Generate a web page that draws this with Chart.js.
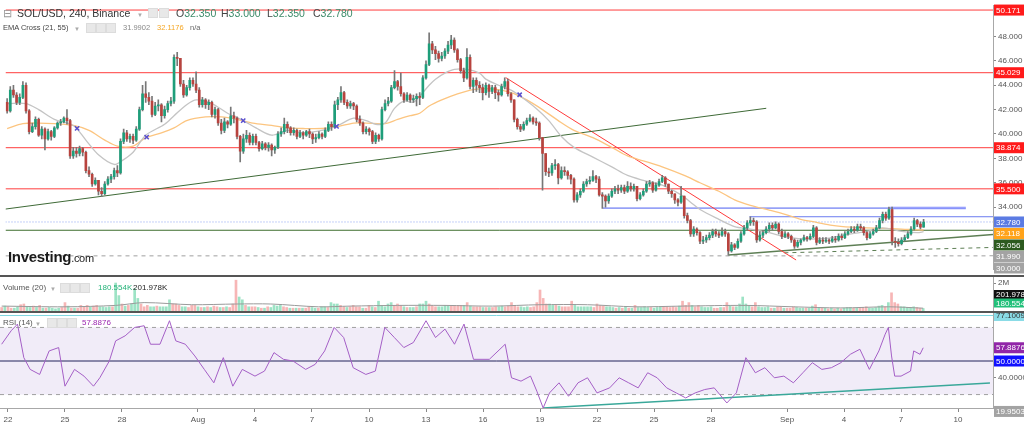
<!DOCTYPE html>
<html>
<head>
<meta charset="utf-8">
<script src="https://cdn.jsdelivr.net/npm/chart.js@4.4.1/dist/chart.umd.min.js"></script>
<style>
  body { margin: 0; width: 1024px; height: 429px; overflow: hidden; background: #fff; position: relative; font-family: Arial, "Liberation Sans", sans-serif; }
  canvas { position: absolute; left: 0; }
  #cMain { top: 0; }
  #cVol { top: 277px; }
  #cRsi { top: 313px; }
  .sep { position: absolute; left: 0; width: 1024px; height: 2px; background: #555; }
  .t { position: absolute; white-space: nowrap; z-index: 5; line-height: 12px; }
  .s { font-size: 7.5px; }
  .ico { position: absolute; z-index: 5; width: 8px; height: 8px; background: #e8e8e8; border: 1px solid #dcdcdc; }
  .dd { color: #aaa; font-size: 6px; }
  .k { color: #444; }
  .v { color: #3b8a68; }
</style>
</head>
<body>
<canvas id="cMain" width="1024" height="275"></canvas>
<div class="sep" style="top:275px"></div>
<canvas id="cVol" width="1024" height="34"></canvas>
<div class="sep" style="top:311px"></div>
<canvas id="cRsi" width="1024" height="116"></canvas>

<!-- 圖例 -->
<div class="t" style="left:3px;top:7px;font-size:10.5px;color:#999">⊟</div>
<div class="t" style="left:17px;top:7px;font-size:10.5px;color:#333">SOL/USD, 240, Binance</div>
<div class="t dd" style="left:137px;top:9px">▼</div>
<div class="ico" style="left:148px;top:8px"></div><div class="ico" style="left:159px;top:8px"></div>
<div class="t" style="left:176px;top:7px;font-size:10.5px"><span class="k">O</span><span class="v">32.350</span></div>
<div class="t" style="left:221px;top:7px;font-size:10.5px"><span class="k">H</span><span class="v">33.000</span></div>
<div class="t" style="left:267px;top:7px;font-size:10.5px"><span class="k">L</span><span class="v">32.350</span></div>
<div class="t" style="left:313px;top:7px;font-size:10.5px"><span class="k">C</span><span class="v">32.780</span></div>

<div class="t s" style="left:3px;top:22px;color:#444">EMA Cross (21, 55)</div>
<div class="t dd" style="left:74px;top:23px">▼</div>
<div class="ico" style="left:86px;top:23px"></div><div class="ico" style="left:96px;top:23px"></div><div class="ico" style="left:106px;top:23px"></div>
<div class="t s" style="left:123px;top:22px;color:#888">31.9902</div>
<div class="t s" style="left:157px;top:22px;color:#f5a623">32.1176</div>
<div class="t s" style="left:190px;top:22px;color:#666">n/a</div>

<div class="t" style="left:8px;top:251px;font-size:15px;font-weight:bold;color:#1a1a1a;letter-spacing:-0.3px">Investing<span style="font-size:11px;font-weight:normal">.com</span></div>

<div class="t" style="left:3px;top:282px;font-size:8px;color:#555">Volume (20)</div>
<div class="t dd" style="left:50px;top:283px">▼</div>
<div class="ico" style="left:60px;top:283px"></div><div class="ico" style="left:70px;top:283px"></div><div class="ico" style="left:80px;top:283px"></div>
<div class="t" style="left:98px;top:282px;font-size:8px;color:#26b37a">180.554K</div>
<div class="t" style="left:133px;top:282px;font-size:8px;color:#222">201.978K</div>

<div class="t" style="left:3px;top:317px;font-size:8px;color:#555">RSI (14)</div>
<div class="t dd" style="left:35px;top:318px">▼</div>
<div class="ico" style="left:47px;top:318px"></div><div class="ico" style="left:57px;top:318px"></div><div class="ico" style="left:67px;top:318px"></div>
<div class="t" style="left:82px;top:317px;font-size:8px;color:#9c27b0">57.8876</div>

<script>
// --- 資料區 (240 分鐘 K 線, 第一根 = 7/21 16:00) ---
const firstOpen = 42.6;
const closes = [
  41.9,43.6,43.2,42.6,43.0,44.0,41.9,40.2,40.6,41.2,
  39.9,40.4,39.6,40.2,39.8,40.5,40.9,41.0,41.3,41.1,
  38.2,38.6,38.4,38.8,38.5,37.0,36.7,35.9,36.2,35.3,
  35.1,35.9,36.3,36.5,37.0,36.8,39.4,40.1,39.6,39.8,
  39.5,40.4,42.0,43.3,43.0,42.7,41.6,42.3,42.4,41.5,
  42.0,42.5,42.7,46.3,46.2,44.1,43.2,43.8,44.4,44.1,
  43.6,42.4,42.8,42.4,42.6,41.6,42.0,40.9,40.3,41.0,
  40.8,41.5,41.3,39.8,38.6,39.6,39.9,39.3,39.8,39.3,
  38.8,39.2,38.9,39.1,38.7,38.9,40.0,40.2,40.8,40.5,
  40.1,40.3,39.8,40.1,39.9,40.2,40.0,39.6,39.7,40.0,
  39.8,40.3,40.8,40.6,42.4,42.8,43.4,42.6,42.3,42.5,
  42.3,41.2,40.9,40.2,40.4,40.2,39.4,39.9,39.6,42.0,
  42.5,42.7,43.8,44.3,43.9,43.3,42.8,43.2,42.8,42.9,
  43.1,43.0,44.6,45.7,47.4,46.9,46.6,46.2,46.4,46.8,
  47.3,47.7,46.9,46.1,45.2,44.6,46.3,43.9,44.4,44.0,
  43.8,43.4,44.0,43.5,43.8,43.4,43.2,43.9,44.3,43.3,
  42.8,41.2,40.6,40.4,40.8,41.1,41.3,41.0,40.9,39.7,
  38.4,36.9,36.8,37.4,37.5,36.4,37.0,36.9,36.6,36.3,
  34.6,35.0,35.3,35.9,36.1,36.2,36.5,36.3,35.0,34.9,
  34.5,34.9,35.3,35.5,35.4,35.6,35.3,35.7,35.5,35.7,
  34.7,35.0,35.3,35.9,36.0,35.4,35.8,36.1,36.4,35.9,
  35.3,35.1,34.6,34.4,34.9,33.3,32.9,31.8,32.2,31.9,
  31.2,31.3,31.5,31.7,32.0,31.8,31.7,32.0,31.8,30.4,
  30.9,30.7,31.2,31.8,32.3,32.7,32.9,32.8,31.3,31.7,
  31.9,32.2,32.5,32.3,32.6,32.0,31.6,31.8,31.6,31.3,
  30.8,31.1,31.3,31.5,31.4,31.6,32.3,31.1,31.3,31.2,
  31.3,31.2,31.4,31.3,31.6,31.5,31.8,32.0,32.2,32.1,
  32.4,32.3,31.9,31.5,31.8,32.0,32.3,32.9,33.4,33.1,
  33.8,31.2,31.1,31.0,31.3,31.5,31.8,32.2,32.9,32.6,32.35,32.78
];
const highs = [
  42.9,43.9,44.0,43.4,43.3,44.3,44.2,42.0,40.9,41.4,
  41.3,40.6,40.5,40.4,40.3,40.6,41.0,41.2,41.4,42.0,
  41.2,38.9,38.9,39.0,38.9,38.6,37.3,36.8,36.4,36.2,
  35.6,36.1,36.5,36.7,37.2,37.4,39.6,40.4,40.3,40.0,
  40.0,40.6,42.2,44.0,44.3,43.4,43.1,42.6,42.8,42.5,
  42.3,42.7,43.0,46.5,46.7,46.2,44.4,44.0,44.6,44.6,
  45.1,43.8,43.0,42.9,42.8,42.7,42.2,42.1,41.2,41.3,
  41.1,42.2,41.8,41.4,39.9,40.0,40.3,40.1,40.0,40.0,
  39.4,39.4,39.3,39.3,39.2,39.0,40.2,40.5,41.3,41.0,
  40.6,40.5,40.4,40.3,40.2,40.3,40.4,40.1,40.0,40.2,
  40.1,40.5,41.0,41.0,42.7,43.0,43.9,43.5,42.8,42.7,
  42.6,42.4,41.5,41.0,40.6,40.5,40.3,40.1,40.0,42.2,
  42.8,43.0,44.0,45.2,44.4,45.0,43.4,43.4,43.3,43.2,
  43.3,43.4,44.8,46.0,48.3,47.6,47.2,46.8,46.7,47.0,
  47.6,48.1,47.9,47.0,46.2,45.4,47.0,46.5,44.6,44.6,
  44.3,44.1,44.2,44.1,44.0,44.0,43.6,44.1,44.6,44.5,
  43.4,42.8,41.3,40.8,41.0,41.3,41.6,41.4,41.3,41.0,
  39.7,38.4,37.2,37.6,37.9,37.6,37.3,37.3,37.0,36.7,
  36.4,35.2,35.5,36.1,36.3,36.5,37.0,36.6,36.5,35.2,
  35.0,35.1,35.5,35.7,35.8,35.8,35.8,36.1,36.0,35.9,
  35.7,35.2,35.5,36.1,36.2,36.1,36.0,36.3,36.6,36.5,
  35.9,35.4,35.1,34.7,35.7,34.9,33.5,33.0,32.4,32.3,
  32.0,31.6,31.7,31.9,32.2,32.2,32.0,32.3,32.2,31.9,
  31.1,31.0,31.4,32.0,32.5,32.9,33.2,33.1,32.9,32.0,
  32.1,32.4,32.7,32.7,32.8,32.7,32.2,32.0,31.9,31.7,
  31.4,31.3,31.4,31.7,31.6,31.8,32.5,32.4,31.5,31.5,
  31.5,31.4,31.6,31.6,31.8,31.8,32.0,32.2,32.4,32.4,
  32.6,32.6,32.4,32.0,32.0,32.2,32.5,33.1,33.6,33.6,
  34.0,34.0,31.5,31.4,31.5,31.7,32.0,32.4,33.1,33.0,32.8,33.0
];
const lows = [
  41.7,41.8,43.0,42.4,42.4,42.9,41.7,40.0,40.1,40.4,
  39.8,39.6,38.7,39.5,39.5,39.7,40.4,40.7,40.9,40.8,
  38.0,38.0,38.1,38.2,38.2,36.8,36.5,35.7,35.8,35.0,
  34.85,35.0,35.8,36.0,36.3,36.5,36.7,39.2,39.4,39.3,
  39.2,39.4,40.3,41.9,42.6,42.4,41.4,41.5,41.9,41.0,
  41.3,41.8,42.3,42.5,45.6,43.9,43.0,43.1,43.6,43.9,
  43.4,42.2,42.2,42.1,42.0,41.4,41.3,40.7,40.0,40.1,
  40.5,40.7,40.9,39.6,37.7,38.4,39.3,39.1,39.1,39.1,
  38.6,38.7,38.7,38.6,38.2,38.4,38.8,39.8,40.0,40.1,
  39.9,39.9,39.6,39.7,39.6,39.8,39.7,39.2,39.3,39.6,
  39.6,39.7,40.2,40.3,40.5,42.0,42.6,42.4,42.1,42.1,
  42.0,41.0,40.7,40.0,40.0,39.9,39.2,39.2,39.4,39.5,
  41.9,42.3,42.6,43.7,43.6,43.1,42.6,42.7,42.6,42.6,
  42.3,42.4,42.9,44.5,45.6,46.6,46.1,45.9,46.0,46.2,
  46.6,47.0,46.7,45.9,45.0,44.3,44.5,43.7,43.4,43.5,
  43.4,42.8,43.2,43.0,43.3,42.9,42.7,43.1,43.7,43.1,
  42.6,41.0,40.4,40.2,40.3,40.7,41.0,40.8,40.7,39.5,
  35.4,36.6,36.5,36.6,37.1,35.9,36.3,36.6,36.3,35.9,
  34.4,34.4,34.8,35.2,35.7,35.9,36.1,36.0,34.9,33.9,
  34.0,34.3,34.8,35.1,35.1,35.2,35.1,35.2,35.3,35.3,
  34.5,34.6,34.9,35.2,35.7,35.2,35.3,35.7,36.0,35.7,
  35.1,34.8,34.3,34.1,34.3,33.1,32.7,31.6,31.6,31.7,
  31.0,31.0,31.1,31.3,31.5,31.6,31.5,31.6,31.6,30.05,
  30.3,30.5,30.6,31.1,31.7,32.1,32.5,32.5,31.1,31.2,
  31.5,31.8,32.0,32.1,32.2,31.8,31.4,31.5,31.4,31.1,
  30.6,30.7,30.9,31.2,31.2,31.3,31.5,30.9,31.0,31.0,
  31.1,31.0,31.1,31.1,31.2,31.3,31.4,31.7,31.9,31.9,
  32.0,32.1,31.7,31.3,31.4,31.7,31.9,32.2,32.7,32.9,
  33.0,30.9,30.7,30.8,30.9,31.2,31.4,31.7,32.1,32.4,32.2,32.35
];
// 成交量 (百萬)
const volumes = [
  .25,.35,.3,.2,.2,.3,.45,.5,.3,.25,
  .35,.25,.4,.2,.2,.25,.2,.15,.2,.25,
  .6,.35,.2,.2,.2,.4,.3,.4,.3,.35,
  .4,.3,.3,.25,.3,.3,2.0,1.1,.5,.35,
  .4,.5,1.6,.9,.5,.3,.4,.3,.3,.35,
  .3,.3,.3,.8,.5,.5,.4,.3,.3,.25,
  .4,.4,.3,.25,.25,.3,.25,.35,.3,.25,
  .25,.3,.25,.5,2.2,1.0,.8,.4,.3,.3,
  .3,.25,.2,.2,.3,.25,.4,.35,.4,.3,
  .25,.2,.2,.2,.2,.2,.2,.3,.25,.2,
  .2,.3,.3,.25,.6,.5,.5,.4,.3,.25,
  .3,.4,.3,.3,.2,.2,.4,.3,.25,.7,
  .4,.3,.5,.6,.4,.5,.4,.3,.25,.25,
  .25,.3,.5,.5,.7,.5,.4,.3,.3,.3,
  .4,.4,.35,.35,.4,.4,.4,.6,.35,.3,
  .3,.3,.25,.25,.25,.25,.3,.3,.35,.3,
  .35,.6,.4,.3,.3,.25,.3,.25,.3,.6,
  1.5,.9,.5,.5,.4,.4,.35,.3,.3,.3,
  .7,.4,.3,.3,.3,.3,.3,.25,.5,.4,
  .35,.3,.3,.25,.2,.25,.2,.3,.2,.2,
  .4,.25,.25,.3,.25,.25,.2,.25,.3,.3,
  .3,.25,.3,.25,.35,.7,.4,.6,.4,.3,
  .4,.3,.25,.25,.3,.2,.2,.25,.25,.6,
  .4,.3,.3,.5,1.0,.5,.4,.3,.6,.3,
  .25,.25,.3,.2,.2,.3,.3,.2,.2,.2,
  .3,.25,.2,.2,.2,.2,.35,.45,.25,.2,
  .2,.15,.2,.15,.2,.15,.2,.25,.25,.2,
  .2,.2,.25,.3,.2,.2,.25,.35,.4,.3,
  .6,1.3,.6,.5,.3,.3,.25,.25,.3,.25,.2,.18
];
const volMaIdx = [0, 20, 36, 45, 60, 74, 85, 100, 110, 125, 140, 155, 170, 185, 200, 215, 235, 250, 265, 280, 291];
const volMaVal = [.35, .3, .4, .6, .45, .5, .5, .3, .35, .4, .4, .35, .45, .45, .3, .35, .4, .3, .22, .3, .2];

// EMA 21 / EMA 55 (依 K 線序號讀值)
const emaFastIdx = [0,6,10,15,21,25,29,34,37,40,44,50,53,57,60,65,70,75,79,84,89,94,100,105,110,114,117,120,123,126,129,131,134,136,139,142,146,150,152,156,160,163,168,172,176,180,186,192,197,202,208,214,217,220,226,231,236,242,247,252,257,262,268,273,278,284,289,291];
const emaFastVal = [42.5,42.5,42.0,41.2,40.7,39.5,38.3,37.5,37.9,38.5,39.9,40.8,41.5,42.4,42.8,42.5,41.7,41.1,40.5,39.9,40.3,40.1,40.3,40.7,41.3,41.1,40.8,40.9,42.1,42.7,42.6,43.1,44.0,44.5,45.0,45.3,45.3,45.0,44.5,44.0,43.6,43.1,42.1,41.1,39.8,38.9,38.1,37.3,36.6,36.2,35.8,35.0,34.4,33.8,33.0,32.4,32.2,31.9,31.55,31.4,31.4,31.5,31.8,32.0,32.3,32.0,31.9,31.99];
const emaSlowIdx = [0,5,10,15,21,26,31,35,40,44,49,53,57,63,68,73,78,84,89,94,100,105,110,114,120,124,128,131,134,138,143,148,154,160,165,170,175,180,186,192,197,202,208,215,220,226,231,236,242,247,252,257,262,268,273,278,284,289,291];
const emaSlowVal = [40.45,40.85,40.9,40.85,40.7,40.3,39.5,39.0,39.0,39.7,40.1,40.5,41.1,41.4,41.4,41.2,40.9,40.7,40.5,40.45,40.45,40.6,40.9,40.9,40.85,41.2,41.5,41.7,42.3,42.8,43.3,43.65,43.7,43.4,42.8,42.0,41.1,40.3,39.7,38.9,38.2,37.8,37.3,36.6,36.0,35.3,34.6,34.15,33.75,33.4,33.0,32.75,32.5,32.35,32.3,32.25,32.2,32.13,32.12];
// EMA 交叉標記 (日, 價)
const crossDays = [3.37, 7.05, 12.16, 17.1, 26.79];
const crossVals = [40.46, 39.75, 41.09, 40.62, 43.22];

// RSI(14)
const rsiIdx = [0,3,5,7,9,12,15,18,20,23,26,29,31,34,36,39,42,45,47,50,53,55,58,61,64,67,70,73,76,80,83,86,89,92,96,99,102,105,108,111,115,118,121,124,127,130,134,137,140,143,146,149,154,159,161,164,167,169,171,173,176,179,182,185,188,192,195,198,201,204,207,210,213,216,219,222,225,229,232,235,238,241,244,247,250,253,256,259,262,265,268,271,274,277,279,280,281,282,284,287,288,290,291];
const rsiVal = [60,68,72,52,45,42,56,58,35,45,41,35,40,50,62,65,70,71,60,60,74,62,60,53,45,37,52,35,45,41,44,55,51,50,45,48,56,70,64,46,42,44,70,64,58,61,74,64,69,60,72,51,51,60,40,38,41,32,22,31,37,29,37,40,31,34,40,37,34,43,40,34,31,28,31,33,34,25,31,52,43,46,40,41,37,43,49,45,46,49,54,57,45,56,66,70,53,41,41,44,56,54,57.89];

// 價格水平線與趨勢線 (日, 價)
const redLevels = [50.171, 45.029, 38.874, 35.5];
const priceLine = 32.78;
const greenLevel = 32.1;
const grayDashLevel = 30.0;
const longTrend = [[-0.42, 33.84], [39.84, 42.11]];
const downTrend = [[26.05, 44.63], [41.42, 29.66]];
const supportTrend = [[37.84, 30.06], [51.84, 31.75]];
const dashTrend = [[40.8, 30.25], [51.84, 30.69]];
const boxTop = [[31.2, 33.92], [50.4, 33.92]];
const boxTopHi = [[46.4, 33.92], [50.4, 33.92]];
const resist = [[38.95, 33.21], [51.84, 33.21]];
const rsiTrend = [[28.16, 22.0], [51.68, 36.9]];
const rsiLevels = [77.1, 70, 50, 30];

// X 軸刻度 (距 7/22 的天數)
const tickDays = [0, 3, 6, 10, 13, 16, 19, 22, 25, 28, 31, 34, 37, 41, 44, 47, 50];
const tickLabels = ['22', '25', '28', 'Aug', '4', '7', '10', '13', '16', '19', '22', '25', '28', 'Sep', '4', '7', '10'];

// --- 共用設定 ---
const X_MIN = -0.42, X_MAX = 51.84;
const dayOf = i => (i - 2) / 6;
const UP = '#1e9e7a', DOWN = '#b8433e', WICK = '#777';
const FONT = { size: 8, family: 'Arial' };

const opens = closes.map((c, i) => i === 0 ? firstOpen : closes[i - 1]);
const isUp = closes.map((c, i) => c >= opens[i]);

function seg(pts, color, width, dash, order) {
  return { type: 'line', data: pts.map(p => ({ x: p[0], y: p[1] })), borderColor: color, borderWidth: width,
    borderDash: dash || [], pointRadius: 0, order: order ?? 5, tension: 0 };
}
const full = v => [[X_MIN, v], [X_MAX, v]];

const tagPlugin = {
  id: 'tags',
  afterDraw(chart, args, opts) {
    if (!opts.items) return;
    const ctx = chart.ctx, ys = chart.scales.y, a = chart.chartArea;
    const h = opts.h, gap = opts.gap;
    const items = opts.items.map(t => ({ ...t, py: ys.getPixelForValue(t.v) })).sort((p, q) => q.v - p.v);
    for (let k = 1; k < items.length; k++)
      if (items[k].py < items[k - 1].py + gap) items[k].py = items[k - 1].py + gap;
    if (opts.maxY != null)
      for (let k = items.length - 1; k >= 0; k--) {
        const lim = k === items.length - 1 ? opts.maxY : items[k + 1].py - gap;
        if (items[k].py > lim) items[k].py = lim;
      }
    ctx.save();
    ctx.font = '8px Arial';
    ctx.textBaseline = 'middle';
    items.forEach(t => {
      ctx.fillStyle = t.bg;
      ctx.fillRect(a.right + 1, t.py - h / 2, 31, h);
      ctx.fillStyle = t.fg || '#fff';
      ctx.fillText(t.text, a.right + 3, t.py + 0.5);
    });
    ctx.restore();
  }
};
Chart.register(tagPlugin);

function xScale(show) {
  return {
    type: 'linear', min: X_MIN, max: X_MAX, offset: false, display: show,
    grid: { offset: false, drawOnChartArea: false, drawTicks: true, tickLength: 4, color: '#888' },
    border: { color: '#a8a8a8' },
    ticks: { color: '#555', font: FONT, padding: 3, maxRotation: 0, autoSkip: false,
      callback: v => tickLabels[tickDays.indexOf(v)] ?? '' },
    afterBuildTicks: sc => { sc.ticks = tickDays.map(v => ({ value: v })); },
    afterFit: sc => { if (show) sc.height = 21; sc.paddingLeft = 0; sc.paddingRight = 0; }
  };
}
function yScale(min, max, ticks, fmt) {
  return {
    position: 'right', min, max,
    afterFit: sc => { sc.width = 31; sc.paddingTop = 0; sc.paddingBottom = 0; },
    afterBuildTicks: sc => { sc.ticks = ticks.map(v => ({ value: v })); },
    grid: { drawOnChartArea: false, tickLength: 3, color: '#888' },
    border: { color: '#a8a8a8' },
    ticks: { color: '#555', font: FONT, padding: 2, callback: fmt }
  };
}
const base = {
  responsive: false, animation: false, events: [],
  layout: { padding: 0 },
  plugins: { legend: { display: false }, tooltip: { enabled: false } }
};

// --- 主圖: K 線 ---
const mainSets = [
  ...redLevels.map(v => seg(full(v), '#ff3d3d', 1, null, 9)),
  seg(full(priceLine), 'rgba(110,140,240,0.8)', 1, [1, 2], 9),
  seg(full(greenLevel), '#3e6e2e', 1, null, 9),
  seg(full(grayDashLevel), '#a0a0a0', 1, [4, 4], 9),
  seg(longTrend, '#3f6a37', 1, null, 8),
  seg(downTrend, '#ff3a3a', 1, null, 8),
  seg(supportTrend, '#5e7f55', 1.5, null, 8),
  seg(dashTrend, '#5e7f55', 1, [4, 4], 8),
  seg(boxTopHi, 'rgba(120,130,255,0.45)', 3, null, 8),
  seg(boxTop, '#4a5df0', 1, null, 8),
  seg(resist, '#6a7cf0', 1, null, 8),
  { type: 'line', data: emaFastIdx.map((i, k) => ({ x: dayOf(i), y: emaFastVal[k] })), borderColor: '#c4c4c4',
    borderWidth: 1.3, pointRadius: 0, tension: 0.3, order: 6 },
  { type: 'line', data: emaSlowIdx.map((i, k) => ({ x: dayOf(i), y: emaSlowVal[k] })), borderColor: '#fcc580',
    borderWidth: 1.3, pointRadius: 0, tension: 0.3, order: 6 },
  { type: 'bar', data: closes.map((c, i) => ({ x: dayOf(i), y: [Math.min(lows[i], opens[i], c), Math.max(highs[i], opens[i], c)] })),
    backgroundColor: WICK, barThickness: 1, grouped: false, order: 3 },
  { type: 'bar', data: closes.map((c, i) => ({ x: dayOf(i), y: [opens[i], c] })),
    backgroundColor: isUp.map(u => u ? UP : DOWN), barThickness: 2, minBarLength: 1, grouped: false, order: 2 },
  { type: 'line', data: crossDays.map((d, k) => ({ x: d, y: crossVals[k] })), showLine: false,
    pointStyle: 'crossRot', pointRadius: 3, pointBorderWidth: 1.5, pointBorderColor: '#5a4fcf', order: 1 }
];

new Chart(document.getElementById('cMain'), {
  type: 'bar',
  data: { datasets: mainSets },
  options: {
    ...base,
    scales: {
      x: xScale(false),
      y: yScale(28.88, 50.545, [34, 36, 38, 40, 42, 44, 46, 48], v => v.toFixed(3))
    },
    plugins: {
      ...base.plugins,
      tags: { h: 11, gap: 11.5, items: [
        { v: 50.171, text: '50.171', bg: '#ff1a1a' },
        { v: 45.029, text: '45.029', bg: '#ff1a1a' },
        { v: 38.874, text: '38.874', bg: '#ff1a1a' },
        { v: 35.5, text: '35.500', bg: '#ff1a1a' },
        { v: 32.78, text: '32.780', bg: '#5b7be3' },
        { v: 32.118, text: '32.118', bg: '#ffa31a' },
        { v: 32.056, text: '32.056', bg: '#2d5a1f' },
        { v: 31.99, text: '31.990', bg: '#a3a3a3' },
        { v: 30.0, text: '30.000', bg: '#a3a3a3' }
      ] }
    }
  }
});

// --- 成交量 ---
new Chart(document.getElementById('cVol'), {
  type: 'bar',
  data: { datasets: [
    { type: 'line', data: volMaIdx.map((i, k) => ({ x: dayOf(i), y: volMaVal[k] })), borderColor: '#9a9a9a',
      borderWidth: 1, pointRadius: 0, tension: 0.3, order: 1 },
    { type: 'bar', data: volumes.map((v, i) => ({ x: dayOf(i), y: v })),
      backgroundColor: isUp.map(u => u ? 'rgba(60,200,140,0.5)' : 'rgba(240,110,110,0.5)'),
      barThickness: 2, grouped: false, order: 2 }
  ] },
  options: {
    ...base,
    scales: { x: xScale(false), y: yScale(0, 2.43, [2], v => v + 'M') },
    plugins: { ...base.plugins, tags: { h: 9, gap: 8.5, maxY: 26, items: [
      { v: 0.202, text: '201.978K', bg: '#111' },
      { v: 0.181, text: '180.554K', bg: '#22c07a' }
    ] } }
  }
});

// --- RSI ---
const bandFill = {
  id: 'band',
  beforeDatasetsDraw(chart) {
    const { ctx, chartArea: a, scales: { y } } = chart;
    const t = y.getPixelForValue(rsiLevels[1]), b = y.getPixelForValue(rsiLevels[3]);
    ctx.save();
    ctx.fillStyle = 'rgba(150,110,200,0.13)';
    ctx.fillRect(a.left, t, a.right - a.left, b - t);
    ctx.restore();
  }
};
new Chart(document.getElementById('cRsi'), {
  type: 'line',
  data: { datasets: [
    seg(full(rsiLevels[0]), '#7fd6e0', 1, null, 9),
    seg(full(rsiLevels[1]), '#a0a0a0', 1, [4, 4], 9),
    seg(full(rsiLevels[2]), '#22225a', 1, null, 9),
    seg(full(rsiLevels[3]), '#a0a0a0', 1, [4, 4], 9),
    seg(rsiTrend, '#3aa89a', 1.5, null, 2),
    { data: rsiIdx.map((i, k) => ({ x: dayOf(i), y: rsiVal[k] })), borderColor: '#a45fc6', borderWidth: 1,
      pointRadius: 0, tension: 0, order: 1 }
  ] },
  options: {
    ...base,
    scales: { x: xScale(true), y: yScale(22.0, 78.6, [40], v => v.toFixed(4)) },
    plugins: { ...base.plugins, tags: { h: 11, gap: 11.5, items: [
      { v: 77.1009, text: '77.1009', bg: '#8adbe6', fg: '#333' },
      { v: 57.8876, text: '57.8876', bg: '#9126a8' },
      { v: 50, text: '50.0000', bg: '#1010ff' },
      { v: 19.9503, text: '19.9503', bg: '#a3a3a3' }
    ] } }
  },
  plugins: [bandFill]
});
</script>
</body>
</html>
